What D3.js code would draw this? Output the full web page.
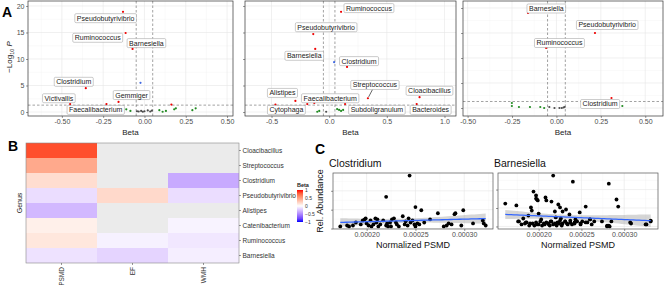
<!DOCTYPE html>
<html>
<head>
<meta charset="utf-8">
<script src="https://cdnjs.cloudflare.com/ajax/libs/d3/7.8.5/d3.min.js"></script>
<style>
  body { margin: 0; background: #fff; }
  text { font-family: "Liberation Sans", Arial, sans-serif; }
</style>
</head>
<body>
<svg id="fig" width="669" height="285"></svg>
<script>
// ---- panel A: volcano data, [genus, beta, -log10 p] ----
const wmhPoints = [
  ["Pseudobutyrivibrio", -0.13, 18.9], ["Ruminococcus", -0.114, 14.9], ["Barnesiella", -0.072, 11.9],
  ["", -0.024, 5.5], ["Clostridium", -0.355, 4.5], ["Victivallis", -0.45, 1.5],
  ["Gemmiger", -0.157, 1.9], ["Faecalibacterium", -0.23, 1.5], ["", 0.163, 1.4],
  ["", -0.11, 0.5], ["", -0.085, 0.2], ["", 0.09, 0.35], ["", 0.11, 0.05], ["", 0.13, 0.2],
  ["", 0.18, 0.5], ["", 0.19, 0.7], ["", 0.29, 0.35], ["", 0.31, 0.7],
  ["", -0.045, 0.15], ["", -0.035, 0.1], ["", -0.02, 0.2], ["", -0.01, 0.05],
  ["", 0.0, 0.15], ["", 0.02, 0.3], ["", 0.035, 0.1], ["", 0.045, 0.25]
];
const wmhLabels = [
  ["Pseudobutyrivibrio", -0.235, 17.7], ["Ruminococcus", -0.283, 14.0], ["Barnesiella", 0.012, 13.0],
  ["Clostridium", -0.428, 5.7], ["Victivallis", -0.518, 2.6], ["Gemmiger", -0.078, 3.2],
  ["Faecalibacterium", -0.295, 0.4]
];

const psmdPoints = [
  ["Ruminococcus", 0.103, 18.9], ["Pseudobutyrivibrio", -0.138, 14.7], ["Barnesiella", -0.121, 11.9],
  ["", 0.043, 9.4], ["Clostridium", 0.155, 8.5], ["Streptococcus", 0.336, 2.6],
  ["Cloacibacillus", 0.784, 2.8], ["Alistipes", -0.293, 2.1], ["Cytophaga", -0.466, 1.4],
  ["", -0.19, 1.5], ["Faecalibacterium", -0.129, 1.7], ["Subdoligranulum", 0.138, 1.5],
  ["Bacteroides", 0.759, 1.5],
  ["", -0.103, 0.05], ["", -0.086, 0.2], ["", 0.069, 0.55], ["", 0.086, 0.4],
  ["", 0.103, 0.2], ["", 0.121, 0.4], ["", -0.026, 0.05]
];
const psmdLabels = [
  ["Ruminococcus", 0.345, 19.6], ["Pseudobutyrivibrio", -0.026, 16.0], ["Barnesiella", -0.216, 10.6],
  ["Clostridium", 0.259, 9.6], ["Streptococcus", 0.397, 5.1], ["Cloacibacillus", 0.87, 4.0],
  ["Alistipes", -0.405, 3.6], ["Faecalibacterium", 0.009, 2.6], ["Cytophaga", -0.371, 0.4],
  ["Subdoligranulum", 0.414, 0.4], ["Bacteroides", 0.88, 0.4]
];

const efPoints = [
  ["Barnesiella", -0.16, 19.0], ["Pseudobutyrivibrio", 0.217, 15.0], ["Ruminococcus", -0.058, 12.0],
  ["Clostridium", 0.31, 2.0],
  ["", -0.251, 1.0], ["", -0.251, 0.4], ["", -0.211, 0.2], ["", -0.149, 0.2],
  ["", -0.091, 0.2], ["", -0.069, 0.0], ["", 0.371, 0.4],
  ["", -0.04, 0.2], ["", -0.011, 0.0], ["", 0.017, 0.0], ["", 0.03, 0.0], ["", 0.04, 0.1], ["", 0.046, 0.2]
];
const efLabels = [
  ["Barnesiella", -0.057, 19.9], ["Pseudobutyrivibrio", 0.286, 16.6],
  ["Ruminococcus", 0.017, 13.0], ["Clostridium", 0.246, 0.8]
];

// ---- panel B: heatmap ----
const hmGenus = ["Cloacibacillus", "Streptococcus", "Clostridium", "Pseudobutyrivibrio",
                 "Alistipes", "Catenibacterium", "Ruminococcus", "Barnesiella"];
const hmMeasures = ["PSMD", "EF", "WMH"];
const hmPSMD = [0.85, 0.45, 0.18, -0.14, -0.30, 0.08, 0.13, -0.12];
const hmEF   = [null, null, null, 0.20, null, null, -0.06, -0.18];
const hmWMH  = [null, null, -0.36, -0.14, null, -0.05, -0.10, -0.07];
const legendTicks = [1, 0.5, 0, -0.5, -1];

// ---- panel C: [normalized PSMD, rel. abundance] ----
const clostridiumPts = [
  [0.000173,0.11],[0.000180,0.16],[0.000182,0.11],[0.000186,0.16],[0.000189,0.32],[0.000194,0.22],
  [0.000196,0.43],[0.000198,0.49],[0.000199,0.54],[0.000200,0.27],[0.000202,0.16],[0.000204,0.43],
  [0.000205,0.11],[0.000207,0.22],[0.000209,0.54],[0.000210,0.32],[0.000211,0.49],[0.000212,0.11],
  [0.000214,0.22],[0.000217,0.43],[0.000220,1.68],[0.000220,0.16],[0.000221,0.27],[0.000222,0.11],
  [0.000224,0.32],[0.000225,0.11],[0.000226,0.49],[0.000228,0.54],[0.000230,0.32],[0.000231,0.22],
  [0.000233,0.11],[0.000237,0.65],[0.000239,0.22],[0.000240,0.38],[0.000242,0.16],[0.000243,0.54],
  [0.000244,2.81],[0.000245,0.32],[0.000247,0.43],[0.000249,0.22],[0.000250,1.14],[0.000250,0.11],
  [0.000252,0.27],[0.000254,0.22],[0.000256,0.97],[0.000259,0.32],[0.000265,0.49],[0.000273,0.81],
  [0.000279,0.11],[0.000282,0.16],[0.000284,0.27],[0.000287,0.22],[0.000290,0.76],[0.000291,0.81],
  [0.000297,0.16],[0.000299,0.97],[0.000309,0.27],[0.000319,0.43],[0.000320,0.27],[0.000322,0.16]
];
const barnesiellaPts = [
  [0.000161,1.24],[0.000174,1.14],[0.000177,0.27],[0.000182,0.43],[0.000185,0.22],[0.000188,0.59],
  [0.000191,1.03],[0.000192,0.86],[0.000194,1.89],[0.000197,1.68],[0.000197,1.51],[0.000198,1.46],
  [0.000199,1.41],[0.000200,0.70],[0.000203,0.38],[0.000208,1.57],[0.000209,1.41],[0.000214,0.27],
  [0.000215,1.35],[0.000217,2.76],[0.000219,0.81],[0.000220,0.49],[0.000223,1.19],[0.000225,1.03],
  [0.000226,0.43],[0.000228,0.81],[0.000231,0.27],[0.000232,0.92],[0.000236,0.65],[0.000237,0.32],
  [0.000240,2.43],[0.000242,0.22],[0.000243,0.38],[0.000248,0.76],[0.000249,0.16],[0.000251,0.27],
  [0.000255,1.08],[0.000257,0.22],[0.000260,0.38],[0.000262,0.11],[0.000265,0.27],[0.000274,0.27],
  [0.000280,0.00],[0.000282,2.32],[0.000283,0.00],[0.000285,0.27],[0.000291,1.46],[0.000293,1.08],
  [0.000308,0.16],[0.000325,0.11],[0.000331,0.27],
  [0.000176,0.27],[0.000186,0.22],[0.000190,0.16],[0.000197,0.22],[0.000198,0.11],[0.000202,0.27],
  [0.000206,0.16],[0.000209,0.22],[0.000212,0.11],[0.000215,0.27],[0.000219,0.16],[0.000222,0.22],
  [0.000225,0.32],[0.000228,0.16],[0.000231,0.27],[0.000234,0.11],[0.000237,0.22],[0.000242,0.16],
  [0.000245,0.27],[0.000249,0.11],[0.000255,0.22],[0.000260,0.38],[0.000280,0.05],[0.000282,0.05],
  [0.000307,0.22],[0.000326,0.11],[0.000331,0.32],
  [0.000180,0.11],[0.000184,0.16],[0.000189,0.05],[0.000193,0.16],[0.000195,0.05],[0.000200,0.11],
  [0.000204,0.05],[0.000207,0.11],[0.000211,0.16],[0.000213,0.05],[0.000217,0.11],[0.000221,0.05],
  [0.000224,0.16],[0.000227,0.05],[0.000233,0.16],[0.000239,0.11]
];

const svg = d3.select("#fig");
const pCut = -Math.log10(0.05), bCut = 0.05;

function ptColor(d) {
  const big = Math.abs(d[1]) > bCut, sig = d[2] > pCut;
  if (big && sig) return "#ee0000";
  if (sig) return "#4169e1";
  if (big) return "#228b22";
  return "#4d4d4d";
}

function minorBreaks(major, dom) {
  const step = major[1] - major[0];
  return d3.range(major[0] - step / 2, major[major.length - 1] + step, step)
    .filter(v => v > dom[0] && v < dom[1]);
}

function styleAxis(sel, size) {
  sel.select(".domain").remove();
  sel.selectAll(".tick line").attr("stroke", "#333").attr("stroke-width", 0.5);
  sel.selectAll(".tick text").attr("fill", "#4d4d4d").attr("font-size", size)
    .attr("font-family", "'Liberation Sans', Arial, sans-serif");
}

function grid(g, x, y, xt, yt) {
  const [x0, x1] = x.range(), [y1, y0] = y.range();
  const xm = minorBreaks(xt, x.domain()), ym = minorBreaks(yt, y.domain());
  g.selectAll(".gxm").data(xm).join("line").attr("x1", x).attr("x2", x).attr("y1", y0).attr("y2", y1)
    .attr("stroke", "#f2f2f2").attr("stroke-width", 0.4);
  g.selectAll(".gym").data(ym).join("line").attr("y1", y).attr("y2", y).attr("x1", x0).attr("x2", x1)
    .attr("stroke", "#f2f2f2").attr("stroke-width", 0.4);
  g.selectAll(".gx").data(xt).join("line").attr("x1", x).attr("x2", x).attr("y1", y0).attr("y2", y1)
    .attr("stroke", "#e6e6e6").attr("stroke-width", 0.6);
  g.selectAll(".gy").data(yt).join("line").attr("y1", y).attr("y2", y).attr("x1", x0).attr("x2", x1)
    .attr("stroke", "#e6e6e6").attr("stroke-width", 0.6);
}

function volcano(cfg) {
  const [x0, y0, x1, y1] = cfg.box;
  const x = d3.scaleLinear().domain(cfg.xd).range([x0, x1]);
  const y = d3.scaleLinear().domain(cfg.yd).range([y1, y0]);
  const g = svg.append("g");
  const yt = [0, 5, 10, 15, 20];
  grid(g.append("g"), x, y, cfg.xt, yt);

  // cut-off lines
  g.selectAll(".vl").data([-bCut, bCut]).join("line")
    .attr("x1", x).attr("x2", x).attr("y1", y0).attr("y2", y1)
    .attr("stroke", "#444").attr("stroke-width", 0.5).attr("stroke-dasharray", "2.5,2");
  g.append("line").attr("x1", x0).attr("x2", x1).attr("y1", y(pCut)).attr("y2", y(pCut))
    .attr("stroke", "#444").attr("stroke-width", 0.5).attr("stroke-dasharray", "2.5,2");

  g.selectAll(".pt").data(cfg.pts).join("circle")
    .attr("cx", d => x(d[1])).attr("cy", d => y(d[2])).attr("r", 1.1)
    .attr("fill", ptColor);

  // labels with boxes and connectors
  const byName = new Map(cfg.pts.filter(d => d[0]).map(d => [d[0], d]));
  cfg.labs.forEach(l => {
    const cx = x(l[1]), cy = y(l[2]);
    const t = g.append("text").attr("x", cx).attr("y", cy).attr("dy", "0.35em")
      .attr("text-anchor", "middle").attr("font-size", 7).attr("fill", "#222").text(l[0]);
    const w = t.node().getComputedTextLength() + 4, h = 9;
    const p = byName.get(l[0]);
    if (p) {
      const px = x(p[1]), py = y(p[2]);
      const dx = px - cx, dy = py - cy;
      const s = Math.min(Math.abs((w / 2) / (dx || 1e-9)), Math.abs((h / 2) / (dy || 1e-9)));
      if (s < 1) {
        const ex = cx + dx * s, ey = cy + dy * s;
        const len = Math.hypot(px - ex, py - ey);
        if (len > 8) {
          g.insert("line", "text").attr("x1", ex).attr("y1", ey)
            .attr("x2", px - (px - ex) * 1.5 / len).attr("y2", py - (py - ey) * 1.5 / len)
            .attr("stroke", "#000").attr("stroke-width", 0.6);
        }
      }
    }
    g.insert("rect", () => t.node()).attr("x", cx - w / 2).attr("y", cy - h / 2)
      .attr("width", w).attr("height", h).attr("rx", 1.2)
      .attr("fill", "#fff").attr("stroke", "#999").attr("stroke-width", 0.5);
  });

  g.append("rect").attr("x", x0).attr("y", y0).attr("width", x1 - x0).attr("height", y1 - y0)
    .attr("fill", "none").attr("stroke", "#333").attr("stroke-width", 0.7);

  const ax = g.append("g").attr("transform", `translate(0,${y1})`)
    .call(d3.axisBottom(x).tickValues(cfg.xt).tickSize(2).tickPadding(1.5)
      .tickFormat(v => d3.format(cfg.xf)(v).replace("−", "-")));
  styleAxis(ax, 7);
  const ay = g.append("g").attr("transform", `translate(${x0},0)`)
    .call(d3.axisLeft(y).tickValues(yt).tickSize(2).tickPadding(1.5)
      .tickFormat(cfg.showY ? d3.format("d") : ""));
  styleAxis(ay, 7);

  g.append("text").attr("x", (x0 + x1) / 2).attr("y", y1 + 19).attr("text-anchor", "middle")
    .attr("font-size", 8).attr("fill", "#222").text("Beta");
}

volcano({ pts: wmhPoints, labs: wmhLabels, box: [28, 1, 233, 116],
  xd: [-0.705, 0.536], yd: [-0.75, 20.94], xt: [-0.5, -0.25, 0, 0.25, 0.5], xf: ".2f", showY: true });
volcano({ pts: psmdPoints, labs: psmdLabels, box: [245, 1, 456, 116],
  xd: [-0.73, 1.1], yd: [-0.75, 20.94], xt: [-0.5, 0, 0.5, 1.0], xf: ".1f", showY: false });
volcano({ pts: efPoints, labs: efLabels, box: [463, 1, 663, 116],
  xd: [-0.526, 0.6], yd: [-1.6, 21.4], xt: [-0.5, -0.25, 0, 0.25, 0.5], xf: ".2f", showY: false });

// y title of panel A
const yt = svg.append("text").attr("transform", "translate(12,57) rotate(-90)")
  .attr("text-anchor", "middle").attr("font-size", 8).attr("fill", "#222");
yt.append("tspan").text("\u2212Log");
yt.append("tspan").attr("font-size", 5.5).attr("dy", 2).text("10");
yt.append("tspan").attr("dy", -2).text(" ");
yt.append("tspan").attr("font-style", "italic").text("P");

// ---- panel B ----
const hmVals = [hmPSMD, hmEF, hmWMH];
const hx = d3.scaleBand().domain(hmMeasures).range([26, 239]);
const hy = d3.scaleBand().domain(hmGenus).range([143, 263]);
const fillScale = d3.scaleLinear().domain([-1, 0, 1]).range(["blue", "white", "red"])
  .interpolate(d3.interpolateLab);
const cells = [];
hmMeasures.forEach((m, j) => hmGenus.forEach((gn, i) => cells.push({ m, gn, v: hmVals[j][i] })));
svg.append("g").selectAll("rect").data(cells).join("rect")
  .attr("x", d => hx(d.m)).attr("y", d => hy(d.gn))
  .attr("width", hx.bandwidth()).attr("height", hy.bandwidth())
  .attr("fill", d => d.v == null ? "#ebebeb" : fillScale(d.v));
svg.append("rect").attr("x", 26).attr("y", 143).attr("width", 213).attr("height", 120)
  .attr("fill", "none").attr("stroke", "#888").attr("stroke-width", 0.6);
const hyAx = svg.append("g").attr("transform", "translate(239,0)")
  .call(d3.axisRight(hy).tickSize(2).tickPadding(1.5));
styleAxis(hyAx, 6.5);
hyAx.selectAll(".tick text").attr("fill", "#333");
const hxAx = svg.append("g").attr("transform", "translate(0,263)")
  .call(d3.axisBottom(hx).tickSize(2).tickPadding(1.5));
styleAxis(hxAx, 6.5);
hxAx.selectAll(".tick text").attr("transform", "rotate(-90)").attr("text-anchor", "end")
  .attr("x", -4).attr("y", 0).attr("dy", "0.35em").attr("fill", "#333");
svg.append("text").attr("transform", "translate(22,203) rotate(-90)").attr("text-anchor", "middle")
  .attr("font-size", 7).attr("fill", "#222").text("Genus");

// legend
const defs = svg.append("defs");
const grad = defs.append("linearGradient").attr("id", "betaGrad")
  .attr("x1", 0).attr("x2", 0).attr("y1", 0).attr("y2", 1);
d3.range(0, 1.0001, 0.1).forEach(o => grad.append("stop")
  .attr("offset", o).attr("stop-color", fillScale(1 - 2 * o)));
const ly = d3.scaleLinear().domain([1, -1]).range([190, 222]);
svg.append("text").attr("x", 297).attr("y", 187).attr("font-size", 5.5).attr("font-weight", "bold")
  .attr("fill", "#222").text("Beta");
svg.append("rect").attr("x", 297).attr("y", 190).attr("width", 6).attr("height", 32)
  .attr("fill", "url(#betaGrad)");
svg.append("g").selectAll("text").data(legendTicks).join("text")
  .attr("x", 305).attr("y", d => ly(d)).attr("dy", "0.35em").attr("font-size", 5)
  .attr("fill", "#333").text(d => String(d).replace("-", "\u2212"));

// ---- panel C ----
function scatter(cfg) {
  const [x0, y0, x1, y1] = cfg.box;
  const xe = d3.extent(cfg.pts, d => d[0]), ye = d3.extent(cfg.pts, d => d[1]);
  const xp = (xe[1] - xe[0]) * 0.05, yp = (ye[1] - ye[0]) * 0.05;
  const x = d3.scaleLinear().domain([xe[0] - xp, xe[1] + xp]).range([x0, x1]);
  const y = d3.scaleLinear().domain([ye[0] - yp, ye[1] + yp]).range([y1, y0]);
  const g = svg.append("g");
  const xt = [0.0002, 0.00025, 0.0003], ytk = [0, 1, 2];
  grid(g.append("g"), x, y, xt, ytk);

  // linear fit with 95% band
  const n = cfg.pts.length;
  const mx = d3.mean(cfg.pts, d => d[0]), my = d3.mean(cfg.pts, d => d[1]);
  const sxx = d3.sum(cfg.pts, d => (d[0] - mx) ** 2);
  const sxy = d3.sum(cfg.pts, d => (d[0] - mx) * (d[1] - my));
  const b = sxy / sxx, a = my - b * mx;
  const s2 = d3.sum(cfg.pts, d => (d[1] - a - b * d[0]) ** 2) / (n - 2);
  const tq = 1.99;
  const xs = d3.range(0, 51).map(i => xe[0] + (xe[1] - xe[0]) * i / 50);
  const band = xs.map(v => {
    const se = Math.sqrt(s2 * (1 / n + (v - mx) ** 2 / sxx));
    return [v, a + b * v - tq * se, a + b * v + tq * se];
  });
  g.append("path").datum(band)
    .attr("d", d3.area().x(d => x(d[0])).y0(d => y(d[1])).y1(d => y(d[2])))
    .attr("fill", "#999").attr("opacity", 0.4);

  g.selectAll(".pt").data(cfg.pts).join("circle")
    .attr("cx", d => x(d[0])).attr("cy", d => y(d[1])).attr("r", 1.9).attr("fill", "#000");

  g.append("path").datum(xs)
    .attr("d", d3.line().x(v => x(v)).y(v => y(a + b * v)))
    .attr("fill", "none").attr("stroke", "#3366ff").attr("stroke-width", 1.3);

  g.append("rect").attr("x", x0).attr("y", y0).attr("width", x1 - x0).attr("height", y1 - y0)
    .attr("fill", "none").attr("stroke", "#555").attr("stroke-width", 0.7);

  const ax = g.append("g").attr("transform", `translate(0,${y1})`)
    .call(d3.axisBottom(x).tickValues(xt).tickSize(2).tickPadding(1.5).tickFormat(d3.format(".5f")));
  styleAxis(ax, 7);
  const ay = g.append("g").attr("transform", `translate(${x0},0)`)
    .call(d3.axisLeft(y).tickValues(ytk).tickSize(2).tickFormat(""));
  styleAxis(ay, 7);

  g.append("text").attr("x", x0 - 4).attr("y", y0 - 6).attr("font-size", 10.5).attr("fill", "#111")
    .text(cfg.title);
  g.append("text").attr("x", (x0 + x1) / 2).attr("y", y1 + 19).attr("text-anchor", "middle")
    .attr("font-size", 9).attr("fill", "#111").text("Normalized PSMD");
}

scatter({ pts: clostridiumPts, box: [333, 173, 493, 229], title: "Clostridium" });
scatter({ pts: barnesiellaPts, box: [498, 173, 658, 229], title: "Barnesiella" });
svg.append("text").attr("transform", "translate(323,201) rotate(-90)").attr("text-anchor", "middle")
  .attr("font-size", 9).attr("fill", "#111").text("Rel. Abundance");

// panel tags
[["A", 2, 17], ["B", 8, 151], ["C", 315, 154]].forEach(([t, px, py]) =>
  svg.append("text").attr("x", px).attr("y", py).attr("font-size", 14).attr("font-weight", "bold")
    .attr("fill", "#000").text(t));
</script>
</body>
</html>
